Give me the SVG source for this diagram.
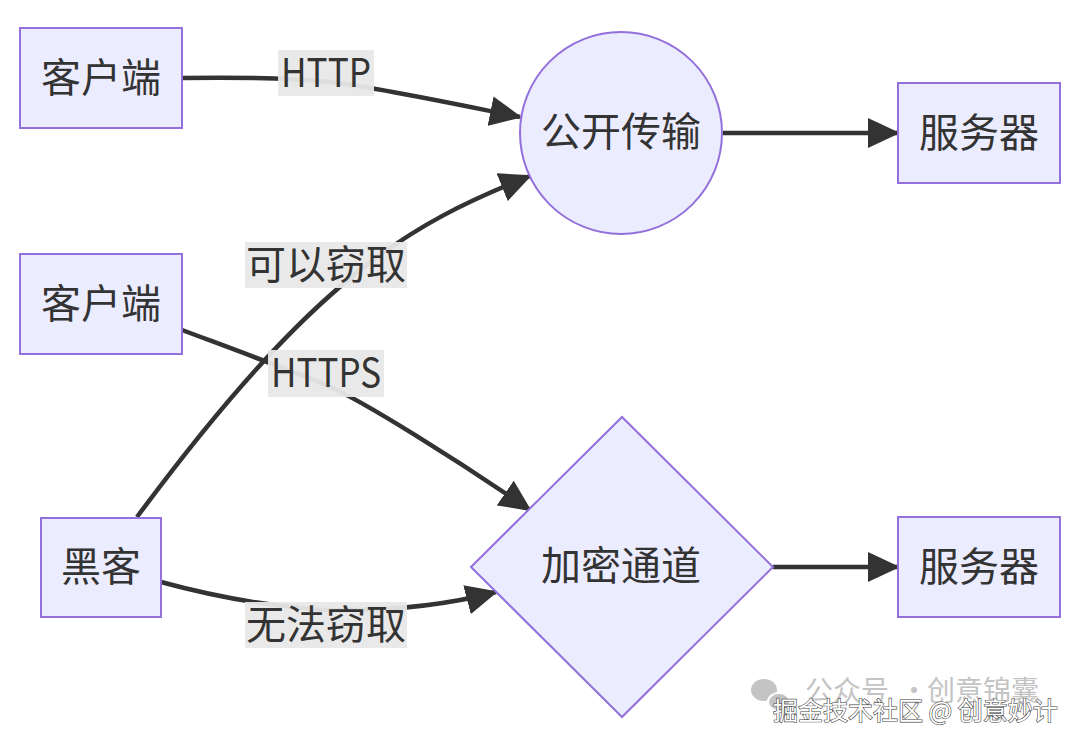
<svg xmlns="http://www.w3.org/2000/svg" width="1080" height="746" viewBox="0 0 1080 746">
<style>
.node{fill:#ECECFF;stroke:#9370DB;stroke-width:2}
.t{font-family:"Noto Sans CJK SC","Noto Sans",sans-serif;font-size:40px;fill:#333333;text-anchor:middle}
.edge{fill:none;stroke:#333333;stroke-width:4.5}
.lbl{fill:#e8e8e8;opacity:0.95}
.wm1{font-family:"Noto Sans CJK SC",sans-serif;font-size:28px;fill:#c4c4c4}
.wm2{font-family:"Noto Sans CJK SC",sans-serif;font-size:25px;fill:#ffffff;stroke:#444444;stroke-width:1.2;paint-order:stroke}
</style>
<defs>
<marker id="arr" markerUnits="userSpaceOnUse" markerWidth="32" markerHeight="30" refX="30" refY="15" orient="auto">
<path d="M0,0 L32,15 L0,30 z" fill="#333333"/>
</marker>
</defs>
<rect width="1080" height="746" fill="#ffffff"/>
<g id="connectors">
<path class="edge" d="M182,78 C250,77 290,78 330,82 S450,103 520,117" marker-end="url(#arr)"/>
<path class="edge" d="M723,133 L898,133" marker-end="url(#arr)"/>
<path class="edge" d="M182,330 C230,348 290,370 326,385 S460,462 530,510" marker-end="url(#arr)"/>
<path class="edge" d="M137,517 C317,274 410,224 530,176" marker-end="url(#arr)"/>
<path class="edge" d="M161,582 Q245,605 326,610 Q420,612 496,592" marker-end="url(#arr)"/>
<path class="edge" d="M773,567 L898,567" marker-end="url(#arr)"/>
</g>
<g id="edge-labels">
<rect class="lbl" x="278" y="50" width="96" height="46"/>
<text class="t" x="326" y="87" textLength="90" lengthAdjust="spacingAndGlyphs">HTTP</text>
<rect class="lbl" x="245" y="242" width="162" height="46"/>
<text class="t" x="326" y="279">可以窃取</text>
<rect class="lbl" x="268" y="350" width="116" height="47"/>
<text class="t" x="326" y="387" textLength="110" lengthAdjust="spacingAndGlyphs">HTTPS</text>
<rect class="lbl" x="245" y="602" width="162" height="46"/>
<text class="t" x="326" y="639">无法窃取</text>
</g>
<g id="client1">
<rect class="node" x="20" y="28" width="162" height="100"/>
<text class="t" x="101" y="92">客户端</text>
</g>
<g id="client2">
<rect class="node" x="20" y="254" width="162" height="100"/>
<text class="t" x="101" y="318">客户端</text>
</g>
<g id="hacker">
<rect class="node" x="41" y="518" width="120" height="99"/>
<text class="t" x="101" y="581">黑客</text>
</g>
<g id="public">
<circle class="node" cx="621" cy="133" r="101"/>
<text class="t" x="621" y="146">公开传输</text>
</g>
<g id="encrypted">
<polygon class="node" points="471,567 622,417 773,567 622,717"/>
<text class="t" x="621" y="580">加密通道</text>
</g>
<g id="server1">
<rect class="node" x="898" y="83" width="162" height="100"/>
<text class="t" x="979" y="147">服务器</text>
</g>
<g id="server2">
<rect class="node" x="898" y="517" width="162" height="100"/>
<text class="t" x="979" y="581">服务器</text>
</g>
<g id="watermark">
<ellipse cx="764" cy="690" rx="13" ry="11" fill="#c4c4c4"/>
<ellipse cx="779" cy="702" rx="11" ry="9" fill="#c4c4c4" stroke="#ffffff" stroke-width="2"/>
<text class="wm1" y="701"><tspan x="805">公众号</tspan><tspan x="900">·</tspan><tspan x="927">创意锦囊</tspan></text>
<text class="wm2" x="773" y="720">掘金技术社区 @ 创意妙计</text>
</g>
</svg>
